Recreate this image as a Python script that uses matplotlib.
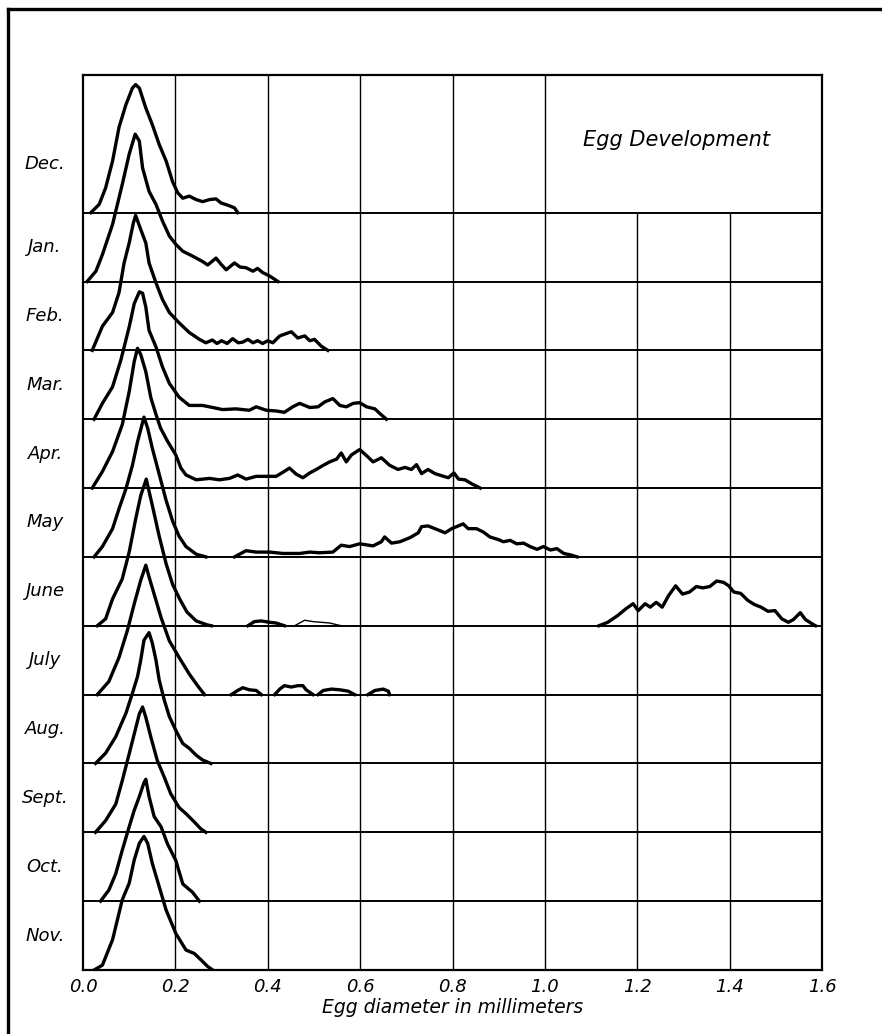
import matplotlib
matplotlib.use("Agg")
import matplotlib.pyplot as plt
from matplotlib.lines import Line2D
import numpy as np

# month labels, top row first
months = ["Dec.", "Jan.", "Feb.", "Mar.", "Apr.", "May", "June", "July",
          "Aug.", "Sept.", "Oct.", "Nov."]
xticks = [0.0, 0.2, 0.4, 0.6, 0.8, 1.0, 1.2, 1.4, 1.6]

# egg diameter (mm) and curve height (in row units) for each month
dec_x = [0.017, 0.035, 0.049, 0.064, 0.078, 0.093, 0.107, 0.114, 0.122, 0.136, 0.150, 0.165, 0.180,
         0.194, 0.205, 0.216, 0.230, 0.245, 0.259, 0.274, 0.288, 0.299, 0.313, 0.328, 0.335]
dec_h = [0.00, 0.12, 0.36, 0.75, 1.24, 1.57, 1.81, 1.86, 1.81, 1.52, 1.28, 0.99, 0.75,
         0.45, 0.29, 0.21, 0.24, 0.19, 0.16, 0.19, 0.20, 0.14, 0.11, 0.07, 0.00]

jan_x = [0.009, 0.028, 0.042, 0.064, 0.085, 0.100, 0.113, 0.122, 0.129, 0.143, 0.158, 0.172, 0.187, 0.201,
         0.216, 0.237, 0.259, 0.270, 0.288, 0.299, 0.310, 0.328, 0.340, 0.353, 0.368, 0.378, 0.389, 0.404, 0.422]
jan_h = [0.00, 0.15, 0.39, 0.83, 1.41, 1.85, 2.14, 2.04, 1.65, 1.31, 1.12, 0.88, 0.66, 0.54,
         0.44, 0.37, 0.29, 0.24, 0.34, 0.25, 0.17, 0.27, 0.21, 0.20, 0.15, 0.19, 0.13, 0.08, 0.00]

feb_x = [0.020, 0.042, 0.064, 0.078, 0.089, 0.100, 0.109, 0.114, 0.122, 0.136, 0.143, 0.158, 0.172, 0.187,
         0.208, 0.230, 0.252, 0.266, 0.280, 0.290, 0.300, 0.312, 0.324, 0.336, 0.346, 0.357, 0.368, 0.378,
         0.389, 0.400, 0.411, 0.426, 0.451, 0.465, 0.480, 0.491, 0.501, 0.516, 0.530]
feb_h = [0.00, 0.35, 0.55, 0.84, 1.27, 1.56, 1.85, 1.96, 1.81, 1.56, 1.27, 0.98, 0.74, 0.55,
         0.40, 0.26, 0.16, 0.11, 0.15, 0.10, 0.14, 0.10, 0.17, 0.11, 0.12, 0.16, 0.11, 0.14,
         0.10, 0.14, 0.11, 0.21, 0.27, 0.18, 0.21, 0.14, 0.16, 0.06, 0.00]

mar_x = [0.024, 0.042, 0.064, 0.082, 0.100, 0.111, 0.122, 0.129, 0.136, 0.143, 0.158, 0.172, 0.187,
         0.208, 0.230, 0.259, 0.281, 0.302, 0.331, 0.360, 0.375, 0.397, 0.418, 0.436, 0.454, 0.469,
         0.491, 0.509, 0.523, 0.541, 0.556, 0.570, 0.585, 0.599, 0.614, 0.632, 0.643, 0.657]
mar_h = [0.00, 0.23, 0.47, 0.86, 1.34, 1.68, 1.85, 1.83, 1.63, 1.29, 1.05, 0.76, 0.52,
         0.32, 0.20, 0.20, 0.17, 0.14, 0.15, 0.13, 0.18, 0.13, 0.12, 0.10, 0.18, 0.23,
         0.17, 0.18, 0.25, 0.30, 0.20, 0.18, 0.23, 0.24, 0.18, 0.15, 0.08, 0.00]

apr_x = [0.020, 0.042, 0.064, 0.085, 0.100, 0.111, 0.118, 0.125, 0.136, 0.147, 0.158, 0.168, 0.183, 0.201,
         0.212, 0.223, 0.245, 0.274, 0.295, 0.317, 0.335, 0.353, 0.375, 0.397, 0.418, 0.433, 0.447, 0.462,
         0.476, 0.491, 0.505, 0.520, 0.534, 0.549, 0.559, 0.570, 0.581, 0.599, 0.614, 0.628, 0.646, 0.664,
         0.682, 0.697, 0.711, 0.722, 0.733, 0.747, 0.762, 0.776, 0.791, 0.803, 0.813, 0.827, 0.842, 0.860]
apr_h = [0.00, 0.24, 0.53, 0.92, 1.40, 1.84, 2.03, 1.94, 1.69, 1.31, 1.07, 0.87, 0.68, 0.48,
         0.29, 0.19, 0.12, 0.14, 0.12, 0.14, 0.19, 0.13, 0.17, 0.17, 0.17, 0.23, 0.29, 0.20,
         0.15, 0.22, 0.27, 0.33, 0.38, 0.42, 0.51, 0.38, 0.48, 0.56, 0.47, 0.38, 0.44, 0.33,
         0.27, 0.30, 0.27, 0.34, 0.21, 0.27, 0.21, 0.18, 0.15, 0.22, 0.13, 0.12, 0.06, 0.00]

may_x = [0.024, 0.042, 0.064, 0.078, 0.093, 0.107, 0.118, 0.132, 0.140, 0.150, 0.165, 0.180, 0.194,
         0.208, 0.223, 0.245, 0.266]
may_h = [0.00, 0.15, 0.41, 0.70, 0.99, 1.33, 1.67, 2.03, 1.87, 1.58, 1.20, 0.82, 0.52,
         0.30, 0.15, 0.04, 0.00]
may2_x = [0.328, 0.353, 0.375, 0.404, 0.433, 0.469, 0.491, 0.512, 0.541, 0.559, 0.577, 0.599, 0.628,
          0.646, 0.653, 0.668, 0.686, 0.708, 0.726, 0.733, 0.747, 0.762, 0.773, 0.784, 0.798, 0.809,
          0.823, 0.834, 0.852, 0.867, 0.881, 0.900, 0.910, 0.925, 0.939, 0.954, 0.968, 0.983, 0.997,
          1.012, 1.026, 1.041, 1.055, 1.070]
may2_h = [0.00, 0.09, 0.07, 0.07, 0.05, 0.05, 0.07, 0.06, 0.07, 0.17, 0.15, 0.19, 0.16,
          0.22, 0.29, 0.20, 0.22, 0.28, 0.35, 0.44, 0.45, 0.41, 0.38, 0.35, 0.41, 0.44,
          0.48, 0.41, 0.41, 0.36, 0.29, 0.25, 0.22, 0.24, 0.19, 0.20, 0.15, 0.11, 0.15,
          0.10, 0.12, 0.05, 0.03, 0.00]

jun_x = [0.031, 0.049, 0.064, 0.085, 0.100, 0.114, 0.125, 0.137, 0.150, 0.165, 0.180, 0.194, 0.210,
         0.225, 0.245, 0.270, 0.278]
jun_h = [0.00, 0.10, 0.39, 0.68, 1.07, 1.55, 1.89, 2.13, 1.75, 1.30, 0.90, 0.60, 0.38,
         0.20, 0.07, 0.01, 0.00]
jun2_x = [0.357, 0.371, 0.386, 0.404, 0.418, 0.436]
jun2_h = [0.00, 0.06, 0.07, 0.05, 0.04, 0.00]
jun3_x = [0.458, 0.480, 0.498, 0.534, 0.559]
jun3_h = [0.00, 0.08, 0.06, 0.04, 0.00]
jun4_x = [1.117, 1.136, 1.158, 1.176, 1.191, 1.202, 1.217, 1.228, 1.241, 1.254, 1.268, 1.283, 1.298,
          1.313, 1.328, 1.342, 1.357, 1.372, 1.387, 1.398, 1.409, 1.424, 1.439, 1.453, 1.468, 1.483,
          1.498, 1.513, 1.527, 1.538, 1.553, 1.564, 1.583, 1.586]
jun4_h = [0.00, 0.05, 0.15, 0.25, 0.32, 0.22, 0.32, 0.27, 0.34, 0.27, 0.44, 0.58, 0.46,
          0.49, 0.57, 0.55, 0.57, 0.65, 0.63, 0.58, 0.49, 0.47, 0.37, 0.31, 0.27, 0.21,
          0.22, 0.10, 0.05, 0.09, 0.19, 0.09, 0.01, 0.00]

jul_x = [0.031, 0.056, 0.078, 0.096, 0.111, 0.125, 0.136, 0.143, 0.154, 0.169, 0.187, 0.208, 0.230, 0.248, 0.263]
jul_h = [0.00, 0.19, 0.54, 0.93, 1.32, 1.66, 1.88, 1.71, 1.46, 1.12, 0.78, 0.54, 0.30, 0.13, 0.00]
jul2_x = [0.321, 0.335, 0.346, 0.360, 0.375, 0.386]
jul2_h = [0.00, 0.06, 0.10, 0.07, 0.06, 0.00]
jul3_x = [0.415, 0.426, 0.436, 0.451, 0.465, 0.476, 0.483, 0.498]
jul3_h = [0.00, 0.08, 0.13, 0.11, 0.13, 0.13, 0.07, 0.00]
jul4_x = [0.509, 0.520, 0.538, 0.556, 0.574, 0.588]
jul4_h = [0.00, 0.06, 0.08, 0.07, 0.05, 0.00]
jul5_x = [0.617, 0.632, 0.650, 0.661, 0.664]
jul5_h = [0.00, 0.06, 0.08, 0.05, 0.00]

aug_x = [0.027, 0.049, 0.071, 0.093, 0.107, 0.118, 0.125, 0.132, 0.143, 0.150, 0.158, 0.165, 0.176,
         0.187, 0.201, 0.216, 0.230, 0.245, 0.259, 0.277]
aug_h = [0.00, 0.15, 0.39, 0.73, 1.02, 1.26, 1.50, 1.79, 1.90, 1.75, 1.50, 1.21, 0.92,
         0.68, 0.48, 0.29, 0.22, 0.12, 0.05, 0.00]

sep_x = [0.027, 0.049, 0.071, 0.085, 0.100, 0.111, 0.122, 0.129, 0.136, 0.147, 0.161, 0.176, 0.190,
         0.208, 0.223, 0.241, 0.255, 0.266]
sep_h = [0.00, 0.17, 0.41, 0.75, 1.14, 1.43, 1.72, 1.82, 1.67, 1.38, 1.04, 0.80, 0.56,
         0.36, 0.27, 0.15, 0.05, 0.00]

oct_x = [0.038, 0.056, 0.071, 0.085, 0.100, 0.111, 0.122, 0.132, 0.136, 0.143, 0.154, 0.169, 0.183,
         0.201, 0.216, 0.237, 0.252]
oct_h = [0.00, 0.16, 0.40, 0.74, 1.08, 1.32, 1.52, 1.72, 1.77, 1.52, 1.23, 1.08, 0.83,
         0.59, 0.25, 0.13, 0.00]

nov_x = [0.024, 0.042, 0.064, 0.085, 0.100, 0.111, 0.122, 0.132, 0.140, 0.150, 0.165, 0.180, 0.201,
         0.223, 0.241, 0.255, 0.270, 0.281]
nov_h = [0.00, 0.07, 0.44, 1.02, 1.26, 1.60, 1.84, 1.94, 1.84, 1.55, 1.21, 0.87, 0.53,
         0.29, 0.24, 0.15, 0.05, 0.00]

main_curves = [(dec_x, dec_h), (jan_x, jan_h), (feb_x, feb_h), (mar_x, mar_h), (apr_x, apr_h),
               (may_x, may_h), (jun_x, jun_h), (jul_x, jul_h), (aug_x, aug_h), (sep_x, sep_h),
               (oct_x, oct_h), (nov_x, nov_h)]
# extra pieces: (row index, x, h, thin?)
extra_curves = [(5, may2_x, may2_h, False), (6, jun2_x, jun2_h, False), (6, jun3_x, jun3_h, True),
                (6, jun4_x, jun4_h, False), (7, jul2_x, jul2_h, False), (7, jul3_x, jul3_h, False),
                (7, jul4_x, jul4_h, False), (7, jul5_x, jul5_h, False)]

n = len(months)
fig = plt.figure(figsize=(8.82, 10.34), dpi=100)
ax = fig.add_axes([0.0941, 0.0619, 0.8379, 0.8656])
ax.set_xlim(0, 1.6)
ax.set_ylim(0, n + 1)

# grid: vertical lines, the title cell in the top row has none right of 1.0
for xv in xticks[1:-1]:
    top = n + 1 if xv <= 1.0 else n - 1
    ax.vlines(xv, 0, top, color="black", lw=1.0, zorder=1)
ax.hlines(np.arange(1, n), 0, 1.6, color="black", lw=1.4, zorder=1)

for i, (xs, hs) in enumerate(main_curves):
    base = n - 1 - i
    ax.plot(xs, np.array(hs) + base, color="black", lw=2.4, solid_joinstyle="round", zorder=3)
    ly = base + (0.7 if i == 0 else 0.5)
    ax.text(-0.082, ly, months[i], ha="center", va="center", fontsize=13, fontstyle="italic")

for row, xs, hs, thin in extra_curves:
    base = n - 1 - row
    ax.plot(xs, np.array(hs) + base, color="black", lw=1.0 if thin else 2.4,
            solid_joinstyle="round", zorder=3)

ax.text(1.286, n + 0.06, "Egg Development", ha="center", va="center", fontsize=15, fontstyle="italic")

ax.set_xticks(xticks)
ax.set_xticklabels(["%.1f" % v for v in xticks], fontsize=13, fontstyle="italic")
ax.set_yticks([])
ax.tick_params(axis="x", length=0, pad=6)
ax.set_xlabel("Egg diameter in millimeters", fontsize=13.5, fontstyle="italic", labelpad=1)
for s in ax.spines.values():
    s.set_linewidth(1.6)

# outer frame of the plate (left and top edges)
fig.add_artist(Line2D([0.009, 0.009], [0.0, 0.991], transform=fig.transFigure, color="black", lw=2.4))
fig.add_artist(Line2D([0.009, 1.0], [0.991, 0.991], transform=fig.transFigure, color="black", lw=2.4))

fig.savefig("out.png", dpi=100)
